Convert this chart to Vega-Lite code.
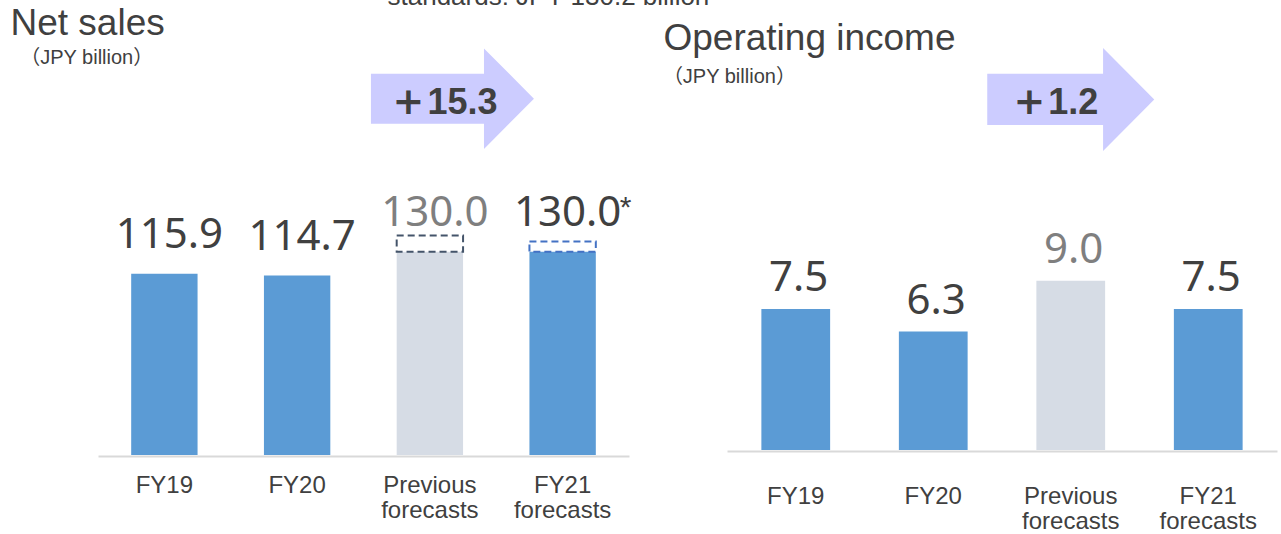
{
  "$schema": "https://vega.github.io/schema/vega-lite/v6.json",
  "width": 1281,
  "height": 534,
  "autosize": {"type": "none"},
  "padding": 0,
  "background": "#ffffff",
  "config": {"view": {"stroke": null}, "font": "Liberation Sans"},
  "datasets": {
    "bars": [
      {"panel": "Net sales", "cat": "FY19", "value": 115.9},
      {"panel": "Net sales", "cat": "FY20", "value": 114.7},
      {"panel": "Net sales", "cat": "Previous forecasts", "value": 130.0, "box_top": 140.3},
      {"panel": "Net sales", "cat": "FY21 forecasts", "value": 130.0, "box_top": 136.5, "note": "*"},
      {"panel": "Operating income", "cat": "FY19", "value": 7.5},
      {"panel": "Operating income", "cat": "FY20", "value": 6.3},
      {"panel": "Operating income", "cat": "Previous forecasts", "value": 9.0},
      {"panel": "Operating income", "cat": "FY21 forecasts", "value": 7.5}
    ],
    "changes": [
      {"panel": "Net sales", "cat": "Previous forecasts", "change": 15.3},
      {"panel": "Operating income", "cat": "Previous forecasts", "change": 1.2}
    ]
  },
  "resolve": {
    "scale": {"x": "independent", "y": "independent"},
    "axis": {"x": "independent", "y": "independent"}
  },
  "layer": [
    {
      "encoding": {
        "x": {
          "field": "cat", "type": "nominal",
          "scale": {"domain": ["FY19", "FY20", "Previous forecasts", "FY21 forecasts"], "range": [98, 629], "paddingInner": 0.5, "paddingOuter": 0.25},
          "axis": {"orient": "bottom", "offset": -78, "title": null, "grid": false, "ticks": false, "domainColor": "#d9d9d9", "domainWidth": 2, "labelPadding": 36, "labelBaseline": "alphabetic", "labelFont": "Liberation Sans", "labelFontSize": 24, "labelColor": "#404040", "labelLineHeight": 25, "labelAngle": 0, "labelLimit": 0, "labelExpr": "split(datum.label, ' ')"}
        }
      },
      "layer": [
        {
          "data": {"name": "bars"},
          "transform": [{"filter": "datum.panel === 'Net sales'"}],
          "mark": {"type": "bar"},
          "encoding": {
            "y": {"field": "value", "type": "quantitative", "scale": {"domain": [0, 290.9], "range": [455, 0], "nice": false, "zero": false}, "axis": null},
            "color": {"condition": {"test": "datum.cat === 'Previous forecasts'", "value": "#d6dce5"}, "value": "#5b9bd5"}
          }
        },
        {
          "data": {"name": "bars"},
          "transform": [{"filter": "datum.panel === 'Net sales' && isValid(datum.box_top)"}],
          "mark": {"type": "bar", "fillOpacity": 0, "strokeWidth": 2, "strokeDash": [7, 4]},
          "encoding": {
            "y": {"field": "value", "type": "quantitative", "scale": {"domain": [0, 290.9], "range": [455, 0], "nice": false, "zero": false}},
            "y2": {"field": "box_top"},
            "stroke": {"condition": {"test": "datum.cat === 'Previous forecasts'", "value": "#44546a"}, "value": "#4472c4"}
          }
        },
        {
          "data": {"name": "bars"},
          "transform": [{"filter": "datum.panel === 'Net sales'"}],
          "mark": {"type": "text", "font": "Noto Sans", "fontSize": 42, "baseline": "alphabetic", "dy": -26, "dx": 5},
          "encoding": {
            "y": {"field": "value", "type": "quantitative", "scale": {"domain": [0, 290.9], "range": [455, 0], "nice": false, "zero": false}},
            "text": {"field": "value", "type": "quantitative", "format": ".1f"},
            "color": {"condition": {"test": "datum.cat === 'Previous forecasts'", "value": "#7f7f7f"}, "value": "#404040"}
          }
        },
        {
          "data": {"name": "bars"},
          "transform": [{"filter": "datum.panel === 'Net sales' && isValid(datum.note)"}],
          "mark": {"type": "text", "fontSize": 30, "align": "left", "baseline": "alphabetic", "dx": 57, "dy": -35, "color": "#404040"},
          "encoding": {"y": {"field": "value", "type": "quantitative", "scale": {"domain": [0, 290.9], "range": [455, 0], "nice": false, "zero": false}}, "text": {"field": "note"}}
        },
        {
          "data": {"name": "changes"},
          "transform": [{"filter": "datum.panel === 'Net sales'"}],
          "mark": {"type": "point", "shape": "M-1,-0.307L0.387,-0.307L0.387,-0.617L1,0L0.387,0.617L0.387,0.307L-1,0.307Z", "size": 26569, "filled": true, "color": "#ccccff", "fill": "#ccccff", "opacity": 1, "strokeWidth": 0},
          "encoding": {"x": {"field": "cat", "type": "nominal", "bandPosition": 0.84}, "y": {"datum": 227.8, "scale": {"domain": [0, 290.9], "range": [455, 0], "nice": false, "zero": false}}}
        },
        {
          "data": {"name": "changes"},
          "transform": [{"filter": "datum.panel === 'Net sales'"}],
          "mark": {"type": "text", "font": "DejaVu Sans", "fontWeight": "bold", "fontSize": 38, "align": "left", "baseline": "alphabetic", "dx": -60, "dy": 15.5, "color": "#404040"},
          "encoding": {"x": {"field": "cat", "type": "nominal", "bandPosition": 0.84}, "y": {"datum": 227.8}, "text": {"value": "+"}}
        },
        {
          "data": {"name": "changes"},
          "transform": [{"filter": "datum.panel === 'Net sales'"}],
          "mark": {"type": "text", "font": "Liberation Sans", "fontWeight": "bold", "fontSize": 36, "align": "left", "baseline": "alphabetic", "dx": -25, "dy": 15.5, "color": "#404040"},
          "encoding": {"x": {"field": "cat", "type": "nominal", "bandPosition": 0.84}, "y": {"datum": 227.8}, "text": {"field": "change", "type": "quantitative", "format": ".1f"}}
        },
        {
          "data": {"name": "bars"},
          "transform": [{"filter": "datum.panel === 'Net sales' && datum.cat === 'FY19'"}],
          "mark": {"type": "text", "fontSize": 37, "align": "left", "baseline": "alphabetic", "dx": -120.7, "color": "#404040"},
          "encoding": {"x": {"datum": "FY19", "bandPosition": 0}, "y": {"datum": 268.7}, "text": {"value": "Net sales"}}
        },
        {
          "data": {"name": "bars"},
          "transform": [{"filter": "datum.panel === 'Net sales' && datum.cat === 'FY19'"}],
          "mark": {"type": "text", "font": "Liberation Sans, Noto Sans CJK JP", "fontSize": 20, "align": "left", "baseline": "alphabetic", "dx": -111, "color": "#404040"},
          "encoding": {"x": {"datum": "FY19", "bandPosition": 0}, "y": {"datum": 250.0}, "text": {"value": "（JPY billion）"}}
        },
        {
          "data": {"name": "bars"},
          "transform": [{"filter": "datum.panel === 'Net sales' && datum.cat === 'Previous forecasts'"}],
          "mark": {"type": "text", "fontSize": 26, "align": "left", "baseline": "alphabetic", "dx": -9.2, "color": "#404040"},
          "encoding": {"x": {"field": "cat", "type": "nominal", "bandPosition": 0}, "y": {"datum": 287.9}, "text": {"value": "standards: JPY 130.2 billion"}}
        }
      ]
    },
    {
      "encoding": {
        "x": {
          "field": "cat", "type": "nominal",
          "scale": {"domain": ["FY19", "FY20", "Previous forecasts", "FY21 forecasts"], "range": [727, 1277], "paddingInner": 0.5, "paddingOuter": 0.25},
          "axis": {"orient": "bottom", "offset": -83, "title": null, "grid": false, "ticks": false, "domainColor": "#d9d9d9", "domainWidth": 2, "labelPadding": 52, "labelBaseline": "alphabetic", "labelFont": "Liberation Sans", "labelFontSize": 24, "labelColor": "#404040", "labelLineHeight": 25.6, "labelAngle": 0, "labelLimit": 0, "labelExpr": "split(datum.label, ' ')"}
        }
      },
      "layer": [
        {
          "data": {"name": "bars"},
          "transform": [{"filter": "datum.panel === 'Operating income'"}],
          "mark": {"type": "bar"},
          "encoding": {
            "y": {"field": "value", "type": "quantitative", "scale": {"domain": [0, 23.94], "range": [450, 0], "nice": false, "zero": false}, "axis": null},
            "color": {"condition": {"test": "datum.cat === 'Previous forecasts'", "value": "#d6dce5"}, "value": "#5b9bd5"}
          }
        },
        {
          "data": {"name": "bars"},
          "transform": [{"filter": "datum.panel === 'Operating income'"}],
          "mark": {"type": "text", "font": "Noto Sans", "fontSize": 42, "baseline": "alphabetic", "dy": -18, "dx": 3},
          "encoding": {
            "y": {"field": "value", "type": "quantitative", "scale": {"domain": [0, 23.94], "range": [450, 0], "nice": false, "zero": false}},
            "text": {"field": "value", "type": "quantitative", "format": ".1f"},
            "color": {"condition": {"test": "datum.cat === 'Previous forecasts'", "value": "#7f7f7f"}, "value": "#404040"}
          }
        },
        {
          "data": {"name": "changes"},
          "transform": [{"filter": "datum.panel === 'Operating income'"}],
          "mark": {"type": "point", "shape": "M-1,-0.307L0.387,-0.307L0.387,-0.617L1,0L0.387,0.617L0.387,0.307L-1,0.307Z", "size": 27889, "filled": true, "color": "#ccccff", "fill": "#ccccff", "opacity": 1, "strokeWidth": 0},
          "encoding": {"x": {"field": "cat", "type": "nominal", "bandPosition": 0.5}, "y": {"datum": 18.65, "scale": {"domain": [0, 23.94], "range": [450, 0], "nice": false, "zero": false}}}
        },
        {
          "data": {"name": "changes"},
          "transform": [{"filter": "datum.panel === 'Operating income'"}],
          "mark": {"type": "text", "font": "DejaVu Sans", "fontWeight": "bold", "fontSize": 38, "align": "left", "baseline": "alphabetic", "dx": -57.3, "dy": 14.5, "color": "#404040"},
          "encoding": {"x": {"field": "cat", "type": "nominal", "bandPosition": 0.5}, "y": {"datum": 18.65}, "text": {"value": "+"}}
        },
        {
          "data": {"name": "changes"},
          "transform": [{"filter": "datum.panel === 'Operating income'"}],
          "mark": {"type": "text", "font": "Liberation Sans", "fontWeight": "bold", "fontSize": 36, "align": "left", "baseline": "alphabetic", "dx": -22.4, "dy": 14.5, "color": "#404040"},
          "encoding": {"x": {"field": "cat", "type": "nominal", "bandPosition": 0.5}, "y": {"datum": 18.65}, "text": {"field": "change", "type": "quantitative", "format": ".1f"}}
        },
        {
          "data": {"name": "bars"},
          "transform": [{"filter": "datum.panel === 'Operating income' && datum.cat === 'FY19'"}],
          "mark": {"type": "text", "fontSize": 37, "align": "left", "baseline": "alphabetic", "dx": -97.9, "color": "#404040"},
          "encoding": {"x": {"field": "cat", "type": "nominal", "bandPosition": 0}, "y": {"datum": 21.28}, "text": {"value": "Operating income"}}
        },
        {
          "data": {"name": "bars"},
          "transform": [{"filter": "datum.panel === 'Operating income' && datum.cat === 'FY19'"}],
          "mark": {"type": "text", "font": "Liberation Sans, Noto Sans CJK JP", "fontSize": 20, "align": "left", "baseline": "alphabetic", "dx": -98.5, "color": "#404040"},
          "encoding": {"x": {"field": "cat", "type": "nominal", "bandPosition": 0}, "y": {"datum": 19.52}, "text": {"value": "（JPY billion）"}}
        }
      ]
    }
  ]
}
